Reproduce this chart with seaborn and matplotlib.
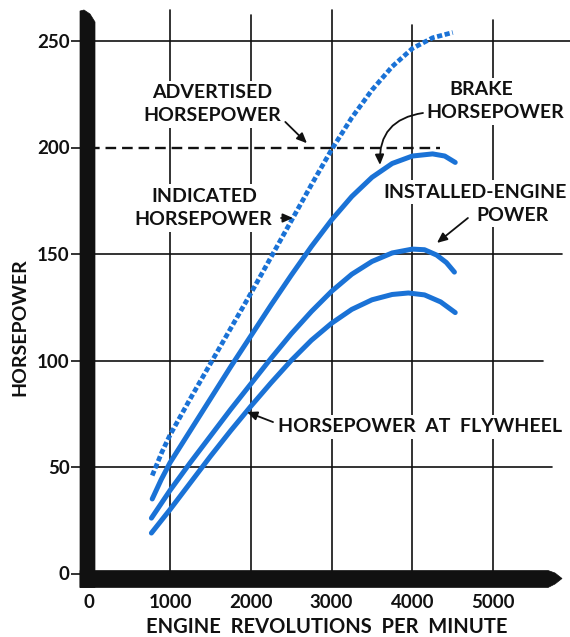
import matplotlib
matplotlib.use("Agg")
import matplotlib.pyplot as plt
from matplotlib.patches import Polygon
import seaborn as sns

# Engine speed (rpm) and horsepower for each curve
rpm_indicated = [780, 900, 1000, 1250, 1500, 1750, 2000, 2250, 2500, 2750, 3000,
                 3250, 3500, 3750, 4000, 4250, 4500]
hp_indicated = [46, 57, 65, 82, 98.5, 115, 131.5, 148.5, 165.5, 182.5, 199,
                214, 227, 238, 246.5, 251.5, 254]

rpm_brake = [780, 890, 1000, 1250, 1500, 1750, 2000, 2250, 2500, 2750, 3000,
             3250, 3500, 3750, 4000, 4250, 4400, 4530]
hp_brake = [35, 44, 52, 67, 82, 97, 111.5, 126, 140, 153.5, 166,
            177, 186, 192.5, 196, 197, 196, 193]

rpm_installed = [770, 1000, 1250, 1500, 1750, 2000, 2250, 2500, 2750, 3000, 3250,
                 3500, 3750, 4000, 4150, 4300, 4420, 4520]
hp_installed = [26, 39, 52, 64.5, 77, 89, 101, 112.5, 123, 132.5, 140.5,
                146.5, 150.5, 152.3, 152, 149.5, 146, 141.5]

rpm_flywheel = [770, 1000, 1250, 1500, 1750, 2000, 2250, 2500, 2750, 3000, 3250,
                3500, 3750, 3950, 4150, 4350, 4530]
hp_flywheel = [19, 30, 42.5, 55, 67, 78.5, 89.5, 100, 109.5, 117.5, 124,
               128.5, 131, 131.7, 130.8, 127.5, 122.5]

advertised_hp = 200
advertised_rpm = [0, 4340]

x_ticks = [0, 1000, 2000, 3000, 4000, 5000]
y_ticks = [0, 50, 100, 150, 200, 250]

BLUE = "#1a72d6"
INK = "#111111"

W, H = 570, 637
sns.set_theme(style="white")
plt.rcParams["font.family"] = ["Lato", "DejaVu Sans"]
plt.rcParams["font.weight"] = "bold"

fig = plt.figure(figsize=(W / 100, H / 100), dpi=100)
fig.patch.set_facecolor("white")

# pixel position of the origin and pixels per unit
X0, Y0 = 89.2, 573.5
SX, SY = 0.0808, 2.13
ax = fig.add_axes([X0 / W, (H - Y0) / H, (W - X0) / W, Y0 / H])
ax.set_xlim(0, (W - X0) / SX)
ax.set_ylim(0, Y0 / SY)
ax.set_facecolor("white")
for s in ax.spines.values():
    s.set_visible(False)


def fig_px(x, y):
    """Figure fraction from pixel coordinates measured from the top-left."""
    return (x / W, 1 - y / H)


# grid: lines of uneven length, as in the printed chart
h_grid = {50: 5730, 100: 5620, 150: 5850, 250: 5950}
v_grid = {1000: 264.6, 2000: 262, 3000: 264.6, 4000: 257.5, 5000: 260}
for yv, xend in h_grid.items():
    ax.plot([0, xend], [yv, yv], color=INK, lw=1.2, zorder=1, clip_on=False)
for xv, ytop in v_grid.items():
    ax.plot([xv, xv], [0, ytop], color=INK, lw=1.2, zorder=1, clip_on=False)

# advertised horsepower: dashed level line
ax.plot(advertised_rpm, [advertised_hp] * 2, color=INK, lw=1.7,
        linestyle=(0, (4.5, 2.5)), zorder=2)

# power curves
for rpm, hp in [(rpm_brake, hp_brake), (rpm_installed, hp_installed),
                (rpm_flywheel, hp_flywheel)]:
    sns.lineplot(x=rpm, y=hp, ax=ax, color=BLUE, lw=3.6, sort=False,
                 estimator=None, solid_capstyle="round",
                 solid_joinstyle="round", zorder=3)
sns.lineplot(x=rpm_indicated, y=hp_indicated, ax=ax, color=BLUE, lw=3.4,
             sort=False, estimator=None, linestyle=(0, (1.1, 0.55)),
             dash_capstyle="butt", zorder=3)

# ticks and labels
ax.set_xticks(x_ticks)
ax.set_yticks(y_ticks)
ax.set_xticklabels([str(v) for v in x_ticks])
ax.set_yticklabels([str(v) for v in y_ticks])
ax.tick_params(axis="x", length=0, pad=15, labelsize=13.5, labelcolor=INK)
ax.tick_params(axis="y", length=13, width=1.2, color=INK, pad=1,
               labelsize=13.5, labelcolor=INK, left=True)
for lab in ax.get_xticklabels() + ax.get_yticklabels():
    lab.set_fontweight("bold")

ax.set_xlabel("ENGINE  REVOLUTIONS  PER  MINUTE", fontsize=14.5,
              fontweight="bold", color=INK)
ax.xaxis.set_label_coords(0.4946, -0.0933)
ax.xaxis.label.set_va("center")
ax.set_ylabel("HORSEPOWER", fontsize=14, fontweight="bold", color=INK)
ax.yaxis.set_label_coords(-0.144, 0.43)
ax.yaxis.label.set_va("center")

# heavy axis bars
ybar = [(80, 587.5), (80, 11), (84, 10), (90, 14), (95, 22), (95, 587.5)]
xbar = [(80, 570.5), (548, 570.5), (555, 573), (562, 578.5), (555, 584),
        (548, 587.5), (80, 587.5)]
for pts in (ybar, xbar):
    fig.patches.append(Polygon([fig_px(*p) for p in pts], closed=True,
                               transform=fig.transFigure, facecolor=INK,
                               edgecolor=INK, lw=0.5, zorder=10))

# annotations
tkw = dict(fontsize=14, fontweight="bold", color=INK, ha="center",
           va="center", zorder=6,
           bbox=dict(facecolor="white", edgecolor="none", pad=2.5))
ax.text(1520, 225.6, "ADVERTISED", **tkw)
ax.text(1520, 214.8, "HORSEPOWER", **tkw)
ax.text(1420, 177.2, "INDICATED", **tkw)
ax.text(1408, 166.0, "HORSEPOWER", **tkw)
ax.text(4848, 227.0, "BRAKE", **tkw)
ax.text(5022, 216.2, "HORSEPOWER", **tkw)
ax.text(4770, 179.1, "INSTALLED-ENGINE", **tkw)
ax.text(5245, 168.3, "POWER", **tkw)
fkw = dict(tkw)
fkw["ha"] = "left"
ax.text(2336, 68.8, "HORSEPOWER  AT  FLYWHEEL", **fkw)

akw = dict(arrowstyle="-|>,head_length=0.5,head_width=0.22", color=INK,
           lw=1.3, shrinkA=0, shrinkB=0)
ax.annotate("", xy=(2695, 202), xytext=(2427, 212), arrowprops=akw, zorder=6)
ax.annotate("", xy=(2522, 166.9), xytext=(2374, 166.9), arrowprops=akw, zorder=6)
ax.annotate("", xy=(3599, 191.8), xytext=(4131, 216.2),
            arrowprops=dict(akw, connectionstyle="arc3,rad=0.45"), zorder=6)
ax.annotate("", xy=(4304, 155.2), xytext=(4687, 166.9), arrowprops=akw, zorder=6)
ax.annotate("", xy=(1953, 75.8), xytext=(2275, 71.1), arrowprops=akw, zorder=6)

fig.savefig("out.png", dpi=100, facecolor="white")
